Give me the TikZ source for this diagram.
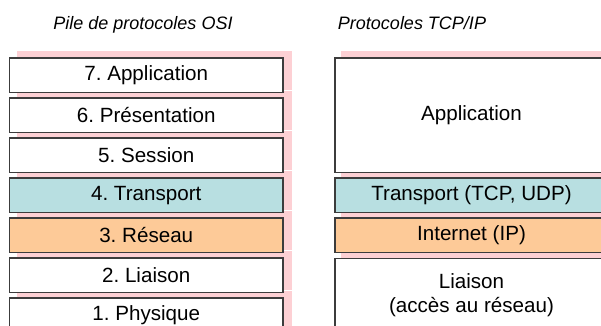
\documentclass[tikz,border=0pt]{standalone}
\usepackage{fontspec}
\setmainfont{Liberation Sans}
\usetikzlibrary{backgrounds}
\definecolor{shpink}{RGB}{253,208,212}
\definecolor{tblue}{RGB}{184,223,225}
\definecolor{norange}{RGB}{253,202,152}
\definecolor{bordc}{RGB}{60,60,60}
\tikzset{
  layer/.style={draw=bordc, line width=0.6pt, fill=white, inner sep=0pt,
    minimum width=136.75pt, minimum height=17.25pt,
    font=\fontsize{10.3}{12}\selectfont, align=center},
  rlayer/.style={layer, minimum width=136.5pt},
  title/.style={font=\fontsize{9}{11}\selectfont\itshape, inner sep=0pt, anchor=base},
  pshadow/.style={fill=shpink}
}
\frenchspacing
\begin{document}
\frenchspacing
\begin{tikzpicture}[x=0.5pt,y=-0.5pt]
\useasboundingbox (0,0) rectangle (601,326);
\clip (0,0) rectangle (601,326);
% titles
\node[title] (t1) at (143,30) {Pile de protocoles OSI};
\node[title] (t2) at (412,30) {Protocoles TCP/IP};
% OSI stack
\node[layer] (l7) at (146.25,75.25) {7. Application};
\node[layer] (l6) at (146.25,115.25) {6. Présentation};
\node[layer] (l5) at (146.25,155.25) {5. Session};
\node[layer, fill=tblue] (l4) at (146.25,195.25) {4. Transport};
\node[layer, fill=norange] (l3) at (146.25,235.25) {3. Réseau};
\node[layer] (l2) at (146.25,275.25) {2. Liaison};
\node[layer] (l1) at (146.25,315.25) {1. Physique};
% TCP/IP stack
\node[rlayer, minimum height=57.25pt] (ra) at (471.5,115.25) {Application};
\node[rlayer, fill=tblue] (rt) at (471.5,195.25) {Transport (TCP, UDP)};
\node[rlayer, fill=norange] (ri) at (471.5,235.25) {Internet (IP)};
\node[rlayer, minimum height=37pt] (rl) at (471.5,295.25) {Liaison\\(accès au réseau)};
\begin{scope}[on background layer]
  \foreach \n in {l7,l6,l5,l4,l3,l2,l1}{
    \fill[pshadow] ([xshift=4pt,yshift=3pt]\n.north west) rectangle ([xshift=4pt,yshift=1.5pt]\n.south east);
  }
  \foreach \n in {ra,rt,ri,rl}{
    \fill[pshadow] ([xshift=3.5pt,yshift=3pt]\n.north west) rectangle ([xshift=3.5pt,yshift=-2pt]\n.south east);
  }
\end{scope}
\end{tikzpicture}
\end{document}
